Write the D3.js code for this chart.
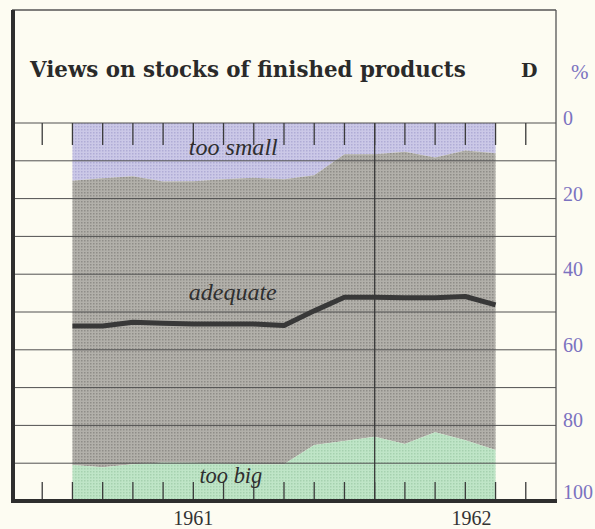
<!DOCTYPE html>
<html><head><meta charset="utf-8">
<script src="https://cdn.jsdelivr.net/npm/d3@7"></script>
<style>
html,body{margin:0;padding:0;background:#fcfbf1;}
svg{display:block;}
</style></head><body>
<svg id="chart" width="595" height="529"></svg>
<script>
// ---- data (percent of respondents) ----
const months = ["1961-03","1961-04","1961-05","1961-06","1961-07","1961-08","1961-09","1961-10",
                "1961-11","1961-12","1962-01","1962-02","1962-03","1962-04","1962-05"];
const tooSmall = [15.3,14.6,14.1,15.5,15.4,14.9,14.5,14.9,13.8,8.3,8.3,7.6,9.1,7.3,8.0];
const tooBig   = [9.5,8.9,9.7,10.2,10.1,9.9,9.7,9.7,14.8,15.9,17.0,15.1,18.2,16.1,13.5];
const adequateLine = [53.7,53.7,52.7,53.0,53.2,53.2,53.2,53.6,49.7,46.1,46.1,46.2,46.2,45.9,48.1];
const yearLabels = ["1961","1962"];
const yTickLabels = [0,20,40,60,80,100];
const seriesLabels = ["too small","adequate","too big"];
const title = "Views on stocks of finished products";
const panelLetter = "D";

// ---- layout ----
const svg = d3.select("#chart");
const monthIdx = s => { const [yy, mm] = s.split("-").map(Number); return (yy - 1961) * 12 + (mm - 1); };
const x = d3.scaleLinear().domain([0, 18]).range([12, 556]);
const y = d3.scaleLinear().domain([0, 100]).range([123, 501]);
const data = months.map((m, i) => ({t: monthIdx(m), small: tooSmall[i], big: tooBig[i], line: adequateLine[i]}));

// patterns (halftone look)
const defs = svg.append("defs");
function pat(id, base, dot) {
  const p = defs.append("pattern").attr("id", id).attr("patternUnits", "userSpaceOnUse")
    .attr("width", 3).attr("height", 3);
  p.append("rect").attr("width", 3).attr("height", 3).attr("fill", base);
  p.append("rect").attr("width", 1.5).attr("height", 1.5).attr("fill", dot);
}
pat("pSmall", "#cbc8e7", "#b0acd6");
pat("pAdeq", "#b2b0aa", "#8f8d88");
pat("pBig", "#bfe5c7", "#a6d1af");

svg.append("rect").attr("width", 595).attr("height", 529).attr("fill", "#fdfcf2");

// areas
svg.append("path").datum(data).attr("fill", "url(#pSmall)")
  .attr("d", d3.area().x(d => x(d.t)).y0(y(0)).y1(d => y(d.small)));
svg.append("path").datum(data).attr("fill", "url(#pAdeq)")
  .attr("d", d3.area().x(d => x(d.t)).y0(d => y(d.small)).y1(d => y(100 - d.big)));
svg.append("path").datum(data).attr("fill", "url(#pBig)")
  .attr("d", d3.area().x(d => x(d.t)).y0(d => y(100 - d.big)).y1(y(100)));

// gridlines
svg.append("g").selectAll("line").data(d3.range(0, 100, 10)).join("line")
  .attr("x1", x(0)).attr("x2", x(18)).attr("y1", d => y(d)).attr("y2", d => y(d))
  .attr("stroke", "#505050").attr("stroke-width", 1);

// year divider
svg.append("line").attr("x1", x(12)).attr("x2", x(12)).attr("y1", y(0)).attr("y2", y(100))
  .attr("stroke", "#3a3a3a").attr("stroke-width", 1.3);

// month ticks top & bottom
const tickPos = d3.range(1, 18);
svg.append("g").selectAll("line").data(tickPos).join("line")
  .attr("x1", d => x(d)).attr("x2", d => x(d)).attr("y1", y(0)).attr("y2", y(0) + 22)
  .attr("stroke", "#3a3a3a").attr("stroke-width", 1.3);
svg.append("g").selectAll("line").data(tickPos).join("line")
  .attr("x1", d => x(d)).attr("x2", d => x(d)).attr("y1", y(100) - 19).attr("y2", y(100))
  .attr("stroke", "#3a3a3a").attr("stroke-width", 1.3);

// thick line
svg.append("path").datum(data).attr("fill", "none").attr("stroke", "#383838")
  .attr("stroke-width", 5).attr("stroke-linejoin", "round")
  .attr("d", d3.line().x(d => x(d.t)).y(d => y(d.line)));

// frame
svg.append("line").attr("x1", x(0)).attr("x2", x(18)).attr("y1", 10).attr("y2", 10)
  .attr("stroke", "#555").attr("stroke-width", 1.4);
svg.append("line").attr("x1", x(18)).attr("x2", x(18)).attr("y1", 10).attr("y2", y(100))
  .attr("stroke", "#555").attr("stroke-width", 1.3);
svg.append("line").attr("x1", x(0) + 1).attr("x2", x(0) + 1).attr("y1", 10).attr("y2", y(100) + 2)
  .attr("stroke", "#2e2e2e").attr("stroke-width", 4);
svg.append("line").attr("x1", x(0) - 1).attr("x2", x(18) + 1).attr("y1", y(100)).attr("y2", y(100))
  .attr("stroke", "#2e2e2e").attr("stroke-width", 4);

// fit text width helper
function fit(sel, w) {
  const n = sel.node(); const cur = n.getComputedTextLength();
  const fs = parseFloat(sel.attr("font-size"));
  sel.attr("font-size", (fs * w / cur).toFixed(2));
}

// title
fit(svg.append("text").attr("x", 30).attr("y", 77).attr("font-family", "DejaVu Serif")
  .attr("font-weight", "bold").attr("font-size", 20).attr("fill", "#2a2a2a").text(title), 436);
svg.append("text").attr("x", 521).attr("y", 77).attr("font-family", "DejaVu Serif")
  .attr("font-weight", "bold").attr("font-size", 19).attr("fill", "#2a2a2a").text(panelLetter);
svg.append("text").attr("x", 571).attr("y", 79).attr("font-family", "Liberation Serif")
  .attr("font-size", 21).attr("fill", "#7b72c0").text("%");

// right axis labels
svg.append("g").selectAll("text").data(yTickLabels).join("text")
  .attr("x", 563).attr("y", d => y(d) - (d === 100 ? 9 : 5))
  .attr("dominant-baseline", "central")
  .attr("font-family", "Liberation Serif").attr("font-size", 20).attr("fill", "#7b72c0")
  .text(d => d);

// year labels
const yearPos = [6, 15.2];
svg.append("g").selectAll("text").data(yearLabels).join("text")
  .attr("x", (d, i) => x(yearPos[i])).attr("y", 525).attr("text-anchor", "middle")
  .attr("font-family", "Liberation Serif").attr("font-size", 20).attr("fill", "#333")
  .text(d => d);

// series annotations
const annot = [
  {x: x(5.85), y: y(0) + 32, w: 89},
  {x: x(5.85), y: y(46.9), w: 88},
  {x: x(6.2), y: y(100) - 18, w: 63}
];
seriesLabels.forEach((s, i) => {
  const a = annot[i];
  fit(svg.append("text").attr("x", a.x).attr("y", a.y).attr("text-anchor", "start")
    .attr("font-family", "Liberation Serif").attr("font-style", "italic").attr("font-size", 20)
    .attr("fill", "#2f2f2f").text(s), a.w);
});
</script>
</body></html>
